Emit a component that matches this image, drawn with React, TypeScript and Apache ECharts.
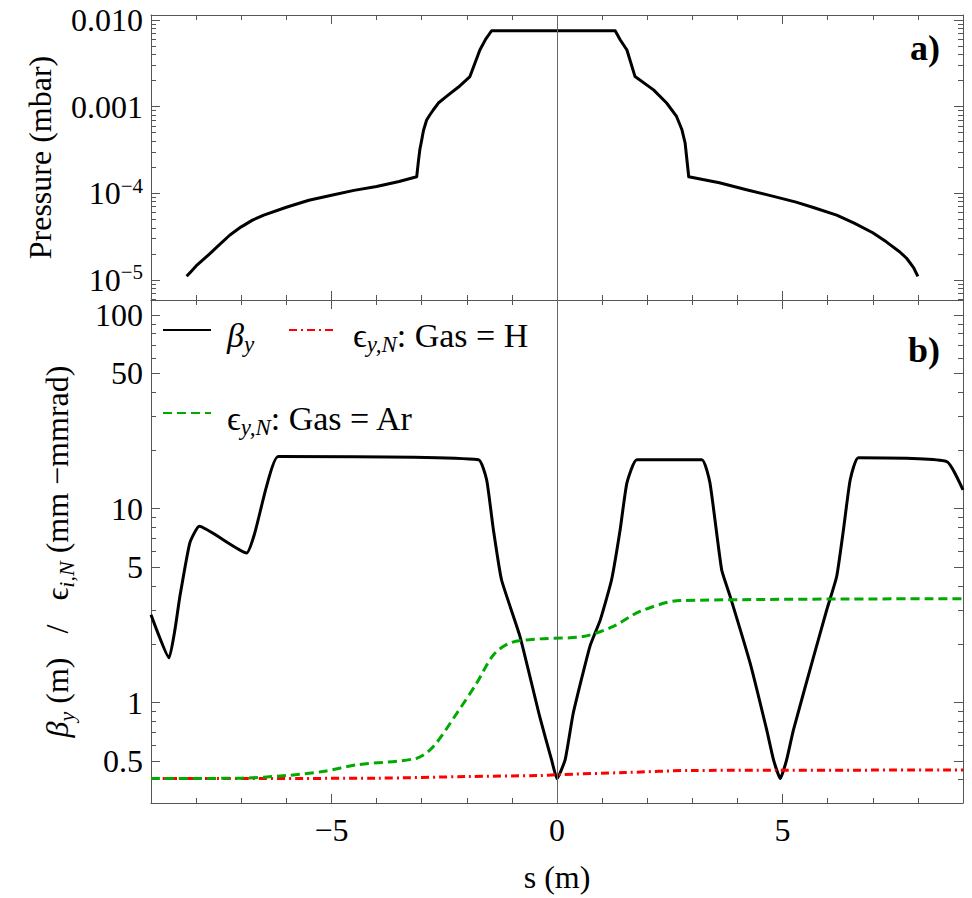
import React, { useEffect, useRef } from "react";
import * as echarts from "echarts";

const FONT = "'Liberation Serif', 'Times New Roman', 'DejaVu Serif', serif";
const AXIS_COLOR = "#555";

// ---------- shared x axis ----------
const xRange = [-9, 9];
const xMajorTicks = [-5, 0, 5];
const xTickLabels = ["\u22125", "0", "5"];
const xName = "s (m)";

// ---------- panel a) pressure ----------
const pressureRange = [5.87e-6, 0.0114];
const pressureMajor = [1e-5, 1e-4, 1e-3, 1e-2];
const pressureMajorLabels = ["10{sup|\u22125}", "10{sup|\u22124}", "0.001", "0.010"];
const pressureMinor = [
  6e-6, 7e-6, 8e-6, 9e-6,
  2e-5, 3e-5, 4e-5, 5e-5, 6e-5, 7e-5, 8e-5, 9e-5,
  2e-4, 3e-4, 4e-4, 5e-4, 6e-4, 7e-4, 8e-4, 9e-4,
  2e-3, 3e-3, 4e-3, 5e-3, 6e-3, 7e-3, 8e-3, 9e-3,
];
const pressureName = "Pressure (mbar)";
const pressureS = [
  -8.21, -8.1, -8.0, -7.85, -7.7, -7.5, -7.25, -7.0, -6.75, -6.5,
  -6.0, -5.5, -5.0, -4.5, -4.0, -3.5, -3.11,
  -3.07, -3.04, -3.0, -2.96, -2.89, -2.82, -2.74, -2.63, -2.45, -2.19,
  -1.93, -1.82, -1.71, -1.58, -1.45,
  1.29, 1.4, 1.55, 1.73, 2.14, 2.43, 2.65, 2.77, 2.84, 2.92,
  3.6, 4.2, 4.8, 5.3, 5.7, 6.2, 6.6, 7.0, 7.3, 7.6, 7.75, 7.9, 8.0,
];
const pressureP = [
  1.1e-5, 1.27e-5, 1.45e-5, 1.7e-5, 2.0e-5, 2.5e-5, 3.3e-5, 4.1e-5, 4.9e-5, 5.6e-5,
  6.9e-5, 8.3e-5, 9.5e-5, 1.08e-4, 1.2e-4, 1.37e-4, 1.55e-4,
  2.4e-4, 3.2e-4, 4.1e-4, 5.3e-4, 7.0e-4, 8.0e-4, 9.2e-4, 1.1e-3, 1.31e-3, 1.67e-3,
  2.22e-3, 3.16e-3, 4.5e-3, 6.0e-3, 7.5e-3,
  7.5e-3, 5.9e-3, 4.5e-3, 2.22e-3, 1.56e-3, 1.1e-3, 7.7e-4, 5.4e-4, 3.8e-4, 1.55e-4,
  1.32e-4, 1.1e-4, 9.2e-5, 7.9e-5, 6.8e-5, 5.6e-5, 4.5e-5, 3.5e-5, 2.75e-5, 2.1e-5, 1.78e-5, 1.4e-5, 1.1e-5,
];

// ---------- panel b) beta / emittance ----------
const opticsRange = [0.303, 119.4];
const opticsMajor = [0.5, 1, 5, 10, 50, 100];
const opticsMajorLabels = ["0.5", "1", "5", "10", "50", "100"];
const opticsMinor = [0.4, 0.6, 0.7, 0.8, 0.9, 2, 3, 4, 6, 7, 8, 9, 20, 30, 40, 60, 70, 80, 90];
const opticsName =
  "{it|\u03b2}{sub|y}{t|\u00a0(m)\u00a0\u00a0\u00a0/\u00a0\u00a0\u00a0}{t|\u03f5}{sub|i,N}{t|\u00a0(mm\u00a0\u2212mmrad)}";

const seriesNames = ["beta", "epsH", "epsAr"];
const legendLabels = [
  "{it|\u03b2}{sub|y}",
  "{t|\u03f5}{sub|y,N}{t|: Gas = H}",
  "{t|\u03f5}{sub|y,N}{t|: Gas = Ar}",
];

const betaS = [
  -9.0, -8.6, -8.47, -8.36, -8.14, -7.93, -6.88, -6.7, -6.44, -6.18,
  -1.74, -1.56, -1.41, -1.23, -0.82, -0.38, -0.12, 0.0, 0.18, 0.36,
  0.73, 0.96, 1.21, 1.4, 1.55, 1.77, 3.21, 3.39, 3.65, 3.84,
  4.28, 4.65, 4.8, 4.95, 5.09, 5.24, 5.69, 5.98, 6.2, 6.35,
  6.5, 6.68, 8.64, 9.0,
];
const betaV = [
  2.84, 1.7, 2.37, 3.52, 6.65, 8.11, 5.91, 7.49, 13.0, 18.6,
  17.9, 14.1, 7.79, 4.3, 2.19, 0.84, 0.506, 0.405, 0.506, 0.88,
  1.95, 2.67, 4.3, 7.79, 13.6, 17.9, 17.9, 13.6, 4.84, 3.52,
  1.6, 0.72, 0.506, 0.405, 0.506, 0.72, 1.73, 3.01, 4.47, 7.79,
  14.1, 18.3, 17.5, 12.5,
];

const arS = [-9.0, -7.0, -6.0, -5.2, -4.44, -3.11, -2.74, -2.22, -1.78, -1.41, -1.04, -0.38, 0.58, 1.25, 1.84, 2.73, 9.0];
const arV = [0.405, 0.407, 0.42, 0.44, 0.477, 0.516, 0.593, 0.88, 1.26, 1.76, 2.03, 2.13, 2.19, 2.47, 2.95, 3.36, 3.43];

const hS = [-9.0, -4.0, -2.0, -0.4, 0.0, 1.5, 3.0, 9.0];
const hV = [0.405, 0.407, 0.415, 0.42, 0.424, 0.435, 0.446, 0.448];

// ---------- helpers ----------
const lg = (v: number) => Math.log10(v);

const richStyles: any = {
  t: { fontSize: 32, fontFamily: FONT, color: "#000", lineHeight: 40 },
  it: { fontSize: 32, fontFamily: FONT, fontStyle: "italic", color: "#000", lineHeight: 40 },
  sub: { fontSize: 22, fontFamily: FONT, fontStyle: "italic", color: "#000", lineHeight: 22, verticalAlign: "bottom" },
};

const legendRich: any = {
  t: { fontSize: 34, fontFamily: FONT, color: "#000", lineHeight: 42 },
  it: { fontSize: 34, fontFamily: FONT, fontStyle: "italic", color: "#000", lineHeight: 42 },
  sub: { fontSize: 23, fontFamily: FONT, fontStyle: "italic", color: "#000", lineHeight: 23, verticalAlign: "bottom" },
};

const tickLine = { color: AXIS_COLOR, width: 1 };

function makeXAxes(gridIndex: number, withLabels: boolean) {
  const common: any = {
    type: "value",
    gridIndex,
    min: xRange[0],
    max: xRange[1],
    splitLine: { show: false },
  };
  const fmt = (v: number) => {
    const i = xMajorTicks.findIndex((m) => Math.abs(m - v) < 1e-6);
    return i >= 0 ? xTickLabels[i] : "";
  };
  return [
    {
      ...common,
      position: "bottom",
      interval: 1,
      axisLine: { show: true, onZero: false, lineStyle: { color: AXIS_COLOR, width: 1 } },
      axisTick: { show: true, inside: true, length: 5, lineStyle: tickLine },
      axisLabel: { show: false },
    },
    {
      ...common,
      position: "bottom",
      axisLine: { show: false, onZero: false },
      axisTick: { show: true, inside: true, length: 9, customValues: xMajorTicks, lineStyle: tickLine },
      axisLabel: withLabels
        ? { show: true, customValues: xMajorTicks, formatter: fmt, margin: 11, fontSize: 32, fontFamily: FONT, color: "#000" }
        : { show: false },
      name: withLabels ? xName : "",
      nameLocation: "middle",
      nameGap: 58,
      nameTextStyle: { fontSize: 32, fontFamily: FONT, color: "#000" },
    },
    {
      ...common,
      position: "top",
      interval: 1,
      axisLine: { show: true, onZero: false, lineStyle: { color: AXIS_COLOR, width: 1 } },
      axisTick: { show: true, inside: true, length: 5, lineStyle: tickLine },
      axisLabel: { show: false },
    },
    {
      ...common,
      position: "top",
      axisLine: { show: false, onZero: false },
      axisTick: { show: true, inside: true, length: 9, customValues: xMajorTicks, lineStyle: tickLine },
      axisLabel: { show: false },
    },
  ];
}

function makeYAxes(
  gridIndex: number,
  range: number[],
  major: number[],
  majorLabels: string[],
  minor: number[],
  name: string,
  nameGap: number
) {
  const majorLog = major.map(lg);
  const minorLog = minor.map(lg);
  const common: any = {
    type: "value",
    gridIndex,
    min: lg(range[0]),
    max: lg(range[1]),
    splitLine: { show: false },
  };
  const fmt = (v: number) => {
    const i = majorLog.findIndex((m) => Math.abs(m - v) < 1e-6);
    return i >= 0 ? majorLabels[i] : "";
  };
  return [
    {
      ...common,
      position: "left",
      axisLine: { show: true, onZero: false, lineStyle: { color: AXIS_COLOR, width: 1 } },
      axisTick: { show: true, inside: true, length: 9, customValues: majorLog, lineStyle: tickLine },
      axisLabel: {
        show: true,
        customValues: majorLog,
        formatter: fmt,
        margin: 8,
        fontSize: 32,
        lineHeight: 36,
        fontFamily: FONT,
        color: "#000",
        rich: {
          sup: { fontSize: 21, lineHeight: 21, fontFamily: FONT, color: "#000", verticalAlign: "top" },
        },
      },
      name,
      nameLocation: "middle",
      nameRotate: 90,
      nameGap,
      nameTextStyle: { fontSize: 32, fontFamily: FONT, color: "#000", lineHeight: 40, rich: richStyles },
    },
    {
      ...common,
      position: "left",
      axisLine: { show: false, onZero: false },
      axisTick: { show: true, inside: true, length: 5, customValues: minorLog, lineStyle: tickLine },
      axisLabel: { show: false },
    },
    {
      ...common,
      position: "right",
      axisLine: { show: true, onZero: false, lineStyle: { color: AXIS_COLOR, width: 1 } },
      axisTick: { show: true, inside: true, length: 9, customValues: majorLog, lineStyle: tickLine },
      axisLabel: { show: false },
    },
    {
      ...common,
      position: "right",
      axisLine: { show: false, onZero: false },
      axisTick: { show: true, inside: true, length: 5, customValues: minorLog, lineStyle: tickLine },
      axisLabel: { show: false },
    },
  ];
}

const zeroLine = {
  silent: true,
  symbol: ["none", "none"],
  label: { show: false },
  lineStyle: { color: "#666", width: 1, type: "solid" },
  data: [{ xAxis: 0 }],
};

function makeLegend(index: number, left: number, top: number) {
  return {
    data: [seriesNames[index]],
    left,
    top,
    padding: 0,
    itemWidth: 48,
    itemHeight: 2,
    itemStyle: { opacity: 0 },
    selectedMode: false,
    formatter: () => legendLabels[index],
    textStyle: {
      fontSize: 34,
      fontFamily: FONT,
      color: "#000",
      padding: [10, 0, 0, 11],
      rich: legendRich,
    },
  };
}

function buildOption(): any {
  return {
    animation: false,
    backgroundColor: "#fff",
    grid: [
      { left: 151, right: 9, top: 15, height: 285 },
      { left: 151, right: 9, top: 300, height: 503 },
    ],
    xAxis: [...makeXAxes(0, false), ...makeXAxes(1, true)],
    yAxis: [
      ...makeYAxes(0, pressureRange, pressureMajor, pressureMajorLabels, pressureMinor, pressureName, 91),
      ...makeYAxes(1, opticsRange, opticsMajor, opticsMajorLabels, opticsMinor, opticsName, 74),
    ],
    legend: [makeLegend(0, 162, 318), makeLegend(1, 288, 318), makeLegend(2, 162, 401)],
    graphic: [
      { type: "text", right: 32, top: 30, style: { text: "a)", font: `bold 36px ${FONT}`, fill: "#000" } },
      { type: "text", right: 32, top: 332, style: { text: "b)", font: `bold 36px ${FONT}`, fill: "#000" } },
    ],
    series: [
      {
        type: "line",
        name: "pressure",
        xAxisIndex: 0,
        yAxisIndex: 0,
        data: pressureS.map((s, i) => [s, lg(pressureP[i])]),
        showSymbol: false,
        symbol: "none",
        lineStyle: { color: "#000", width: 3, join: "round" },
        markLine: zeroLine,
      },
      {
        type: "line",
        name: seriesNames[0],
        xAxisIndex: 4,
        yAxisIndex: 4,
        data: betaS.map((s, i) => [s, lg(betaV[i])]),
        showSymbol: false,
        symbol: "none",
        smooth: 0.15,
        lineStyle: { color: "#000", width: 3, join: "round" },
        itemStyle: { color: "#000" },
        markLine: zeroLine,
      },
      {
        type: "line",
        name: seriesNames[1],
        xAxisIndex: 4,
        yAxisIndex: 4,
        data: hS.map((s, i) => [s, lg(hV[i])]),
        showSymbol: false,
        symbol: "none",
        smooth: 0.3,
        lineStyle: { color: "#ff0000", width: 3, type: [8, 4, 2, 4] },
        itemStyle: { color: "#ff0000" },
      },
      {
        type: "line",
        name: seriesNames[2],
        xAxisIndex: 4,
        yAxisIndex: 4,
        data: arS.map((s, i) => [s, lg(arV[i])]),
        showSymbol: false,
        symbol: "none",
        smooth: 0.3,
        lineStyle: { color: "#00aa00", width: 3, type: [9, 5] },
        itemStyle: { color: "#00aa00" },
      },
    ],
  };
}

export default function App() {
  const ref = useRef<HTMLDivElement>(null);
  useEffect(() => {
    if (!ref.current) return;
    const chart = echarts.init(ref.current, undefined, { renderer: "svg" });
    chart.setOption(buildOption());
    return () => chart.dispose();
  }, []);
  return (
    <div
      ref={ref}
      style={{ position: "absolute", left: 0, top: 0, width: 972, height: 898, background: "#fff" }}
    />
  );
}
